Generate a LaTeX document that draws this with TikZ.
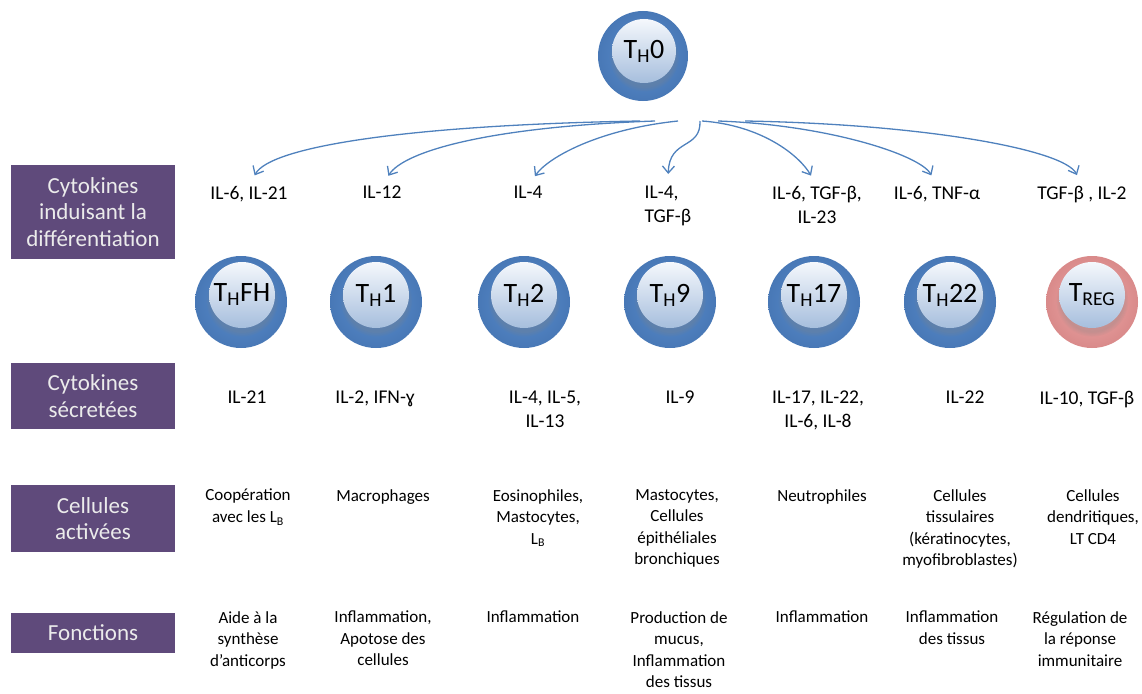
\documentclass[tikz,border=0pt]{standalone}
\usepackage{fontspec}
\setmainfont{Carlito}
\usetikzlibrary{arrows.meta,shadows}
\definecolor{rowpurple}{HTML}{5F4A7B}
\definecolor{linkblue}{HTML}{4F81BD}
\definecolor{ballin}{HTML}{5B8ECF}
\definecolor{ballout}{HTML}{4878B6}
\definecolor{pinkin}{HTML}{F0AAAA}
\definecolor{pinkout}{HTML}{D98A8A}
\definecolor{coretop}{HTML}{F5F8FC}
\definecolor{corebot}{HTML}{A6BEDD}
\newcommand{\celltxt}{\fontsize{28}{30}\selectfont}
\newcommand{\cytotxt}{\fontsize{19.5}{23.5}\selectfont}
\newcommand{\infotxt}{\fontsize{17}{21.5}\selectfont}
\newcommand{\boxtxt}{\fontsize{23}{26.5}\selectfont}

\begin{document}
\begin{tikzpicture}[x=1pt,y=1pt,
    rowlabel/.style={rectangle, fill=rowpurple, text=white!92!black, minimum width=164pt,
        align=center, font=\boxtxt, inner sep=0pt},
    ball/.style={circle, minimum size=92pt, inner sep=0pt, shading=radial,
        inner color=ballin, outer color=ballout},
    pinkball/.style={ball, inner color=pinkin, outer color=pinkout},
    core/.style={circle, minimum size=66pt, inner sep=0pt, shading=axis,
        top color=coretop, bottom color=corebot, font=\celltxt,
        circular drop shadow={shadow xshift=0pt, shadow yshift=-5pt, opacity=0.3}},
    cyto/.style={anchor=north, align=center, font=\cytotxt, inner sep=0pt},
    info/.style={anchor=north, align=center, font=\infotxt, inner sep=0pt},
    link/.style={draw=linkblue, line width=1.3pt, shorten >=12pt,
        -{Straight Barb[length=7pt,width=12pt]}}]
    \useasboundingbox (0,0) rectangle (1142,-693);

    % row labels
    \node[rowlabel, minimum height=94pt] (lbinduce) at (93,-212) {Cytokines\\induisant la\\différentiation};
    \node[rowlabel, minimum height=66pt] (lbsecret) at (93,-396) {Cytokines\\sécretées};
    \node[rowlabel, minimum height=67pt] (lbactive) at (93,-518.5) {Cellules\\activées};
    \node[rowlabel, minimum height=40pt] (lbfunc) at (93,-633) {Fonctions};

    % naive cell
    \node[ball, minimum size=90pt] (th0) at (643,-56) {};
    \node[core, minimum size=64pt] (th0c) at (644,-51) {T\textsubscript{H}0};

    % differentiated cells
    \node[ball] (thfh) at (241,-302) {};
    \node[core] (thfhc) at (242,-295) {T\textsubscript{H}FH};
    \node[ball] (th1) at (376,-302) {};
    \node[core] (th1c) at (376,-295) {T\textsubscript{H}1};
    \node[ball] (th2) at (524,-302) {};
    \node[core] (th2c) at (524,-295) {T\textsubscript{H}2};
    \node[ball] (th9) at (670,-302) {};
    \node[core] (th9c) at (670,-295) {T\textsubscript{H}9};
    \node[ball] (th17) at (814,-302) {};
    \node[core] (th17c) at (814,-295) {T\textsubscript{H}17};
    \node[ball] (th22) at (950,-302) {};
    \node[core] (th22c) at (950,-295) {T\textsubscript{H}22};
    \node[pinkball] (treg) at (1092,-302) {};
    \node[core] (tregc) at (1092,-295) {T\textsubscript{REG}};

    % inducing cytokines
    \node[cyto] (ind1) at (249,-186) {IL-6, IL-21};
    \node[cyto] (ind2) at (382,-186) {IL-12};
    \node[cyto] (ind3) at (528,-186) {IL-4};
    \node[cyto, align=left] (ind4) at (668,-186) {IL-4,\\TGF-β};
    \node[cyto] (ind5) at (817,-186) {IL-6, TGF-β,\\IL-23};
    \node[cyto] (ind6) at (937,-186) {IL-6, TNF-α};
    \node[cyto] (ind7) at (1082,-186) {TGF-β , IL-2};

    \coordinate (hub1) at (640,-121);
    \coordinate (hub2) at (655,-121);
    \coordinate (hub3) at (678,-121);
    \coordinate (hub4) at (700,-121);
    \coordinate (hub5) at (702,-121);
    \coordinate (hub6) at (718,-121);
    \coordinate (hub7) at (745,-121);

    \draw[link] (hub1) to[out=181, in=62, out distance=230pt, in distance=45pt] (ind1.north);
    \draw[link] (hub2) to[out=182, in=58, out distance=170pt, in distance=40pt] (ind2.north);
    \draw[link] (hub3) to[out=186, in=55, out distance=80pt, in distance=35pt] (ind3.north);
    \draw[link] (hub4) .. controls (701,-150) and (669,-138) .. (ind4.north);
    \draw[link] (hub5) to[out=-4, in=120, out distance=60pt, in distance=35pt] (ind5.north);
    \draw[link] (hub6) to[out=-2, in=118, out distance=110pt, in distance=35pt] (ind6.north);
    \draw[link] (hub7) to[out=-1, in=115, out distance=180pt, in distance=40pt] (ind7.north);

    % secreted cytokines
    \node[cyto] (sec1) at (247,-391) {IL-21};
    \node[cyto] (sec2) at (375,-391) {IL-2, IFN-ɣ};
    \node[cyto] (sec3) at (545,-391) {IL-4, IL-5,\\IL-13};
    \node[cyto] (sec4) at (680,-391) {IL-9};
    \node[cyto] (sec5) at (818,-391) {IL-17, IL-22,\\IL-6, IL-8};
    \node[cyto] (sec6) at (965,-391) {IL-22};
    \node[cyto] (sec7) at (1087,-391) {IL-10, TGF-β};

    % activated cells
    \node[info] (act1) at (248,-489) {Coopération\\avec les L\textsubscript{B}};
    \node[info] (act2) at (383,-489) {Macrophages};
    \node[info] (act3) at (538,-489) {Eosinophiles,\\Mastocytes,\\L\textsubscript{B}};
    \node[info] (act4) at (677,-489) {Mastocytes,\\Cellules\\épithéliales\\bronchiques};
    \node[info] (act5) at (822,-489) {Neutrophiles};
    \node[info] (act6) at (960,-489) {Cellules\\tissulaires\\(kératinocytes,\\myofibroblastes)};
    \node[info] (act7) at (1093,-489) {Cellules\\dendritiques,\\LT CD4};

    % functions
    \node[info] (fun1) at (248,-611) {Aide à la\\synthèse\\d’anticorps};
    \node[info] (fun2) at (383,-611) {Inflammation,\\Apotose des\\cellules};
    \node[info] (fun3) at (533,-611) {Inflammation};
    \node[info] (fun4) at (679,-611) {Production de\\mucus,\\Inflammation\\des tissus};
    \node[info] (fun5) at (822,-611) {Inflammation};
    \node[info] (fun6) at (952,-611) {Inflammation\\des tissus};
    \node[info] (fun7) at (1080,-611) {Régulation de\\la réponse\\immunitaire};
\end{tikzpicture}
\end{document}
